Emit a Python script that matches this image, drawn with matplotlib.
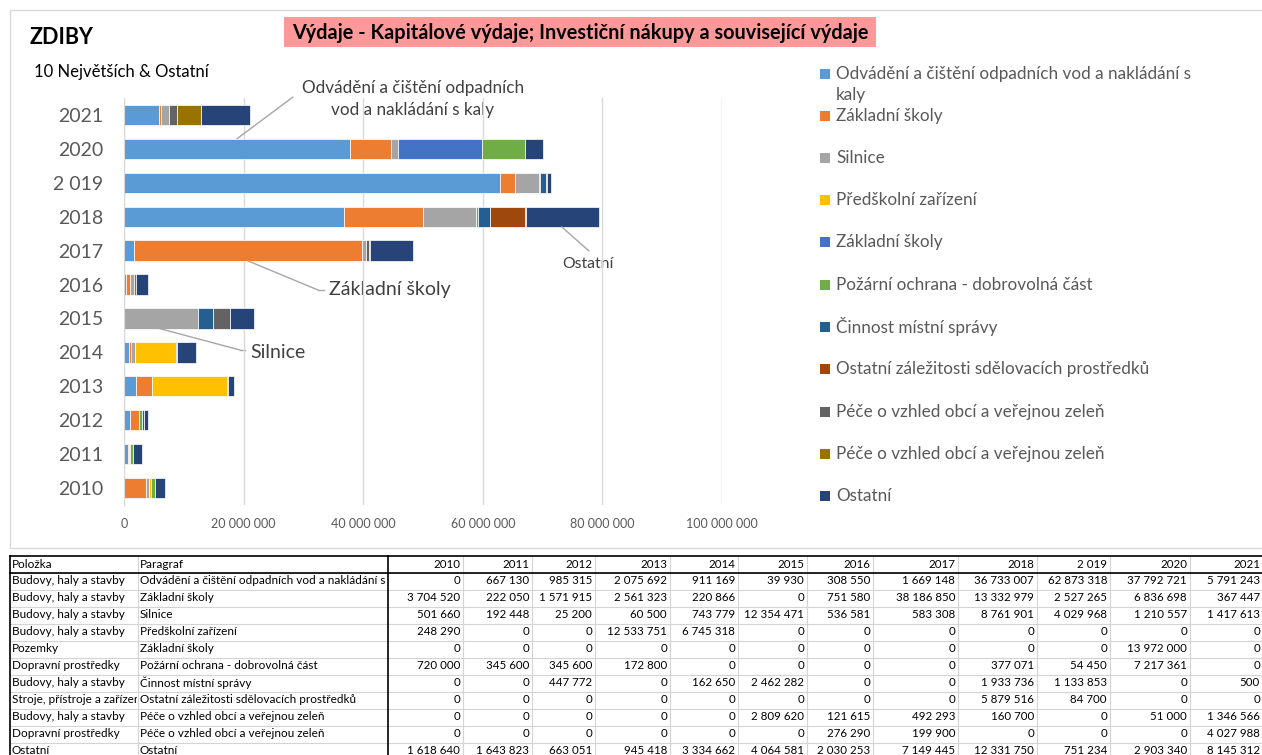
import matplotlib
matplotlib.use("Agg")
import matplotlib.pyplot as plt
from matplotlib.patches import Rectangle
from matplotlib.transforms import Bbox, TransformedBbox
import numpy as np

plt.rcParams['font.family'] = ['Lato', 'DejaVu Sans']

# ---------------- data ----------------
years = [2010, 2011, 2012, 2013, 2014, 2015, 2016, 2017, 2018, 2019, 2020, 2021]
year_labels = ['2010', '2011', '2012', '2013', '2014', '2015', '2016', '2017',
               '2018', '2 019', '2020', '2021']

polozka = ["Budovy, haly a stavby", "Budovy, haly a stavby", "Budovy, haly a stavby",
           "Budovy, haly a stavby", "Pozemky", "Dopravní prostředky",
           "Budovy, haly a stavby", "Stroje, přístroje a zařízení",
           "Budovy, haly a stavby", "Dopravní prostředky", "Ostatní"]
paragraf = ["Odvádění a čištění odpadních vod a nakládání s kaly", "Základní školy",
            "Silnice", "Předškolní zařízení", "Základní školy",
            "Požární ochrana - dobrovolná část", "Činnost místní správy",
            "Ostatní záležitosti sdělovacích prostředků",
            "Péče o vzhled obcí a veřejnou zeleň", "Péče o vzhled obcí a veřejnou zeleň",
            "Ostatní"]
legend_labels = ["Odvádění a čištění odpadních vod a nakládání s\nkaly", "Základní školy",
                 "Silnice", "Předškolní zařízení", "Základní školy",
                 "Požární ochrana - dobrovolná část", "Činnost místní správy",
                 "Ostatní záležitosti sdělovacích prostředků",
                 "Péče o vzhled obcí a veřejnou zeleň", "Péče o vzhled obcí a veřejnou zeleň",
                 "Ostatní"]

odvadeni = [0, 667130, 985315, 2075692, 911169, 39930, 308550, 1669148, 36733007, 62873318, 37792721, 5791243]
zakladni_budovy = [3704520, 222050, 1571915, 2561323, 220866, 0, 751580, 38186850, 13332979, 2527265, 6836698, 367447]
silnice = [501660, 192448, 25200, 60500, 743779, 12354471, 536581, 583308, 8761901, 4029968, 1210557, 1417613]
predskolni = [248290, 0, 0, 12533751, 6745318, 0, 0, 0, 0, 0, 0, 0]
zakladni_pozemky = [0, 0, 0, 0, 0, 0, 0, 0, 0, 0, 13972000, 0]
pozarni = [720000, 345600, 345600, 172800, 0, 0, 0, 0, 377071, 54450, 7217361, 0]
cinnost = [0, 0, 447772, 0, 162650, 2462282, 0, 0, 1933736, 1133853, 0, 500]
ostatni_zalezitosti = [0, 0, 0, 0, 0, 0, 0, 0, 5879516, 84700, 0, 0]
pece_budovy = [0, 0, 0, 0, 0, 2809620, 121615, 492293, 160700, 0, 51000, 1346566]
pece_doprava = [0, 0, 0, 0, 0, 0, 276290, 199900, 0, 0, 0, 4027988]
ostatni = [1618640, 1643823, 663051, 945418, 3334662, 4064581, 2030253, 7149445, 12331750, 751234, 2903340, 8145312]

series = [odvadeni, zakladni_budovy, silnice, predskolni, zakladni_pozemky, pozarni,
          cinnost, ostatni_zalezitosti, pece_budovy, pece_doprava, ostatni]
colors = ['#5B9BD5', '#ED7D31', '#A5A5A5', '#FFC000', '#4472C4', '#70AD47',
          '#255E91', '#9E480E', '#636363', '#997300', '#264478']

xticks = [0, 20000000, 40000000, 60000000, 80000000, 100000000]

# ---------------- figure ----------------
W, H = 1262, 755
fig = plt.figure(figsize=(W / 100, H / 100), dpi=100)

# overlay axes in pixel coordinates (y down)
ov = fig.add_axes([0, 0, 1, 1], zorder=0)
ov.set_xlim(0, W)
ov.set_ylim(H, 0)
ov.axis('off')

def fmt(v):
    return f"{v:,}".replace(',', ' ')

# chart frame
ov.add_patch(Rectangle((10, 10), W + 5, 538, fill=False, edgecolor='#D9D9D9', lw=1))

# titles
ov.text(30, 37, "ZDIBY", fontsize=15.5, fontweight='bold', ha='left', va='center', color='black')
ov.add_patch(Rectangle((284, 17), 592, 30, facecolor='#FF9999', edgecolor='none'))
ov.text(580, 33, "Výdaje - Kapitálové výdaje; Investiční nákupy a související výdaje",
        fontsize=14.3, fontweight='bold', ha='center', va='center', color='black')
ov.text(34, 72, "10 Největších & Ostatní", fontsize=12, ha='left', va='center', color='black')

# legend (manual)
leg_y = [74, 116, 158, 200, 242, 285, 327, 369, 412, 454, 496]
for lab, col, yy in zip(legend_labels, colors, leg_y):
    ov.add_patch(Rectangle((820, yy - 5), 10, 10, facecolor=col, edgecolor='none'))
    for k, part in enumerate(lab.split('\n')):
        ov.text(836, yy + 21 * k, part, fontsize=12.3, color='#595959',
                ha='left', va='center')

# ---------------- main bar chart ----------------
ax = fig.add_axes([124 / W, 1 - 505 / H, 598 / W, 407 / H], zorder=1)
ax.patch.set_alpha(0)
ypos = np.arange(len(years))
left = np.zeros(len(years))
for vals, col, lab in zip(series, colors, paragraf):
    v = np.array(vals, dtype=float)
    ax.barh(ypos, v, left=left, height=0.6, color=col, edgecolor='white', linewidth=0.5, zorder=2)
    left += v

ax.set_xlim(0, 100000000)
ax.set_ylim(-0.5, len(years) - 0.5)
ax.set_yticks(ypos)
ax.set_yticklabels(year_labels, fontsize=14, color='#595959')
ax.set_xticks(xticks)
ax.set_xticklabels([fmt(x) for x in xticks], fontsize=9, color='#595959')
ax.tick_params(axis='y', length=0, pad=15)
ax.tick_params(axis='x', length=0, pad=9)
ax.grid(axis='x', color='#D9D9D9', lw=1, zorder=0)
for s in ['top', 'right', 'bottom']:
    ax.spines[s].set_visible(False)
ax.spines['left'].set_color('#D9D9D9')

def fig_px(x, y):
    return (x / W, 1 - y / H)

line_kw = dict(arrowstyle='-', color='#A6A6A6', lw=1, shrinkA=0, shrinkB=0)
# Odvádění (2020 bar)
ax.annotate('', xy=(18.9e6, 10 + 0.3), xycoords='data', xytext=fig_px(293, 97),
            textcoords='figure fraction', arrowprops=line_kw)
ov.text(413, 88, "Odvádění a čištění odpadních", fontsize=12.3,
        color='#404040', ha='center', va='center')
ov.text(413, 110, "vod a nakládání s kaly", fontsize=12.3,
        color='#404040', ha='center', va='center')
# Základní školy (2017 bar)
ax.annotate('', xy=(20.7e6, 7 - 0.3), xycoords='data', xytext=fig_px(318, 290),
            textcoords='figure fraction', arrowprops=line_kw)
ov.plot([318, 324], [290, 290], color='#A6A6A6', lw=1)
ov.text(329, 290, "Základní školy", fontsize=14, color='#404040', ha='left', va='center')
# Silnice (2015 bar)
ax.annotate('', xy=(6.0e6, 5 - 0.3), xycoords='data', xytext=fig_px(240, 350),
            textcoords='figure fraction', arrowprops=line_kw)
ov.plot([240, 245], [350, 350], color='#A6A6A6', lw=1)
ov.text(250, 352, "Silnice", fontsize=14, color='#404040', ha='left', va='center')
# Ostatní (2018 bar)
ax.annotate('', xy=(73.2e6, 8 - 0.3), xycoords='data', xytext=fig_px(589, 251),
            textcoords='figure fraction', arrowprops=line_kw)
ov.text(588, 264, "Ostatní", fontsize=11.3, color='#404040', ha='center', va='center')

# ---------------- table ----------------
col_edges = [388, 463, 532, 595, 670, 738, 807, 873, 958, 1037, 1110, 1190, 1263]
row_h = 17
top = 556
n_rows = len(paragraf)
tfs = 8.5   # text cells
nfs = 8.3   # number cells

# horizontal light lines
for i in range(n_rows + 1):
    yline = top + row_h * (i + 1)
    ov.plot([10, W], [yline, yline], color='#D4D4D4', lw=0.8, zorder=1)
# vertical light lines
for xe in [138] + col_edges[1:]:
    ov.plot([xe, xe], [top, H], color='#D4D4D4', lw=0.8, zorder=1)
# strong lines
ov.plot([10, W], [top, top], color='black', lw=1.2, zorder=2)
ov.plot([10, W], [top + row_h, top + row_h], color='black', lw=1.2, zorder=2)
ov.plot([10, 10], [top, H], color='black', lw=1.2, zorder=2)
ov.plot([388, 388], [top, H], color='black', lw=1.2, zorder=2)

def clipped_text(x, y, s, x0, x1, **kw):
    t = ov.text(x, y, s, **kw)
    t.set_clip_box(TransformedBbox(Bbox([[x0, 0], [x1, H]]), ov.transData))
    t.set_clip_on(True)
    return t

yh = top + row_h / 2
ov.text(12, yh, "Položka", fontsize=tfs, ha='left', va='center')
ov.text(140, yh, "Paragraf", fontsize=tfs, ha='left', va='center')
for j, lab in enumerate(year_labels):
    ov.text(col_edges[j + 1] - 3, yh, lab, fontsize=nfs, ha='right', va='center')

for i in range(n_rows):
    yr = top + row_h * (i + 1) + row_h / 2 - 1
    clipped_text(12, yr, polozka[i], 10, 137, fontsize=tfs, ha='left', va='center')
    clipped_text(140, yr, paragraf[i], 138, 387, fontsize=tfs, ha='left', va='center')
    for j in range(len(years)):
        ov.text(col_edges[j + 1] - 3, yr, fmt(series[i][j]), fontsize=nfs, ha='right', va='center')

fig.savefig('out.png', dpi=100)
